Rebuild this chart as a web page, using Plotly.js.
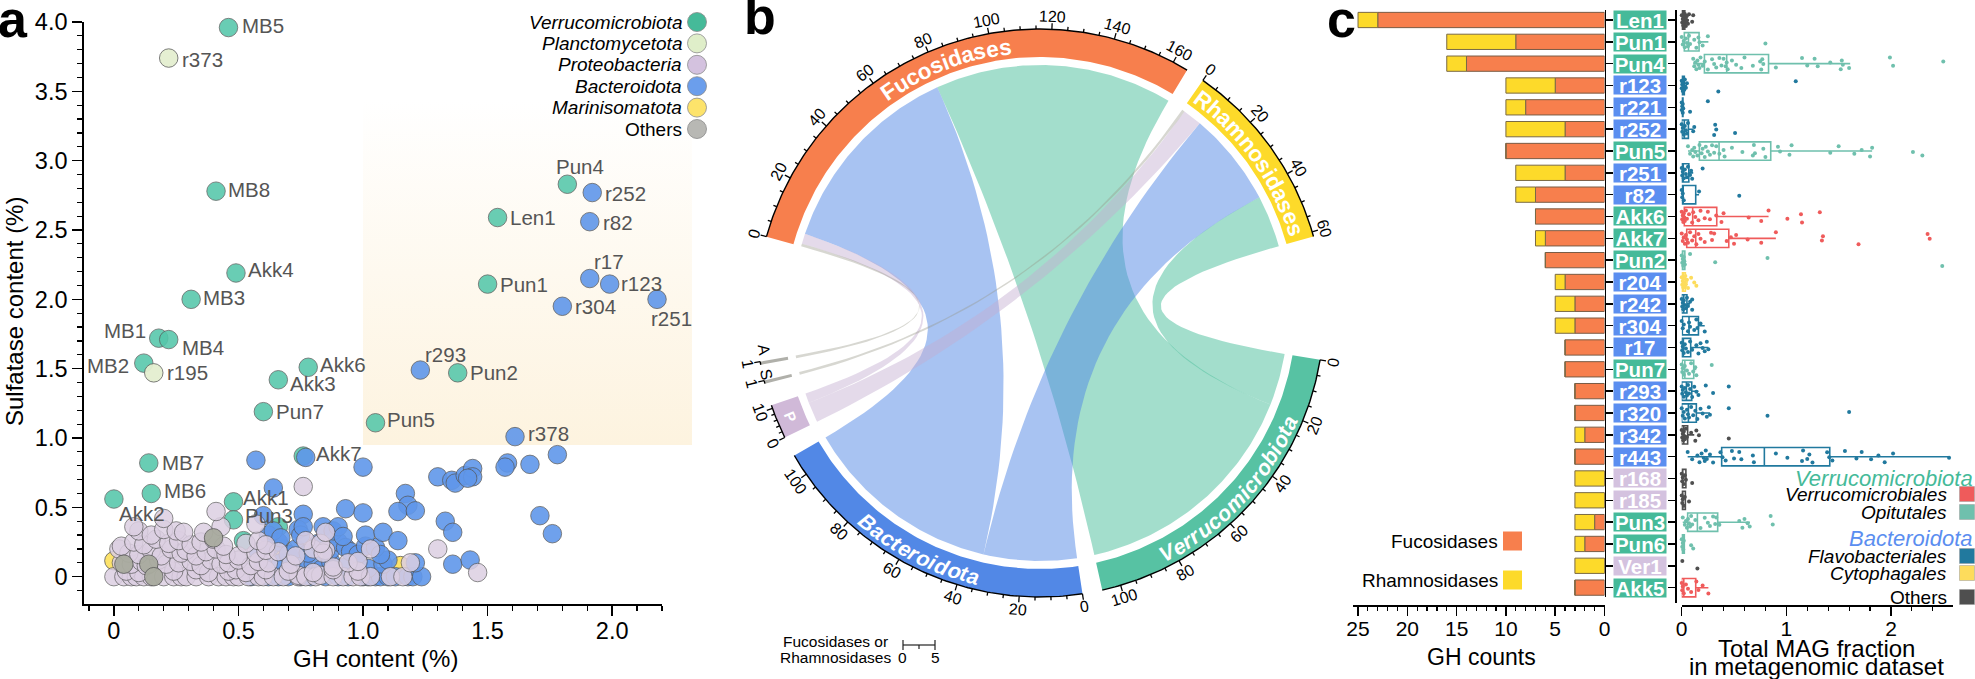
<!DOCTYPE html>
<html><head><meta charset="utf-8">
<script src="https://cdn.plot.ly/plotly-3.0.1.min.js"></script>
<style>html,body{margin:0;padding:0;background:#fff}#c{width:1975px;height:679px}</style>
</head><body><div id="c"></div>
<script>
// ---------- panel a data ----------
const labelledVerruco = [['MB5',.46,3.96],['Pun4',1.82,2.83],['MB8',.41,2.78],['Len1',1.54,2.59],['Akk4',.49,2.19],['Pun1',1.50,2.11],['MB3',.31,2.0],['MB1',.18,1.72],['MB4',.22,1.71],['MB2',.12,1.54],['Akk6',.78,1.51],['Pun2',1.38,1.47],['Akk3',.66,1.42],['Pun7',.60,1.19],['Pun5',1.05,1.11],['Akk7',.76,.87],['MB7',.14,.82],['MB6',.15,.60],['Akk2',0,.56],['Akk1',.48,.54],['Pun3',.48,.41]];
const otherVerruco = [[.52,.26],[.66,.36]];
const labelledPlancto = [['r373',.22,3.74],['r195',.16,1.47]];
const labelledBactero = [['r252',1.92,2.77],['r82',1.91,2.56],['r17',1.91,2.15],['r123',1.99,2.11],['r304',1.80,1.95],['r251',2.18,2.0],['r293',1.23,1.49],['r378',1.61,1.01]];
const otherBactero = [[.57,.84],[.77,.86],[1.0,.79],[1.30,.72],[1.356,.695],[1.37,.675],[1.41,.73],[1.44,.78],[1.44,.72],[1.42,.71],[1.58,.82],[1.57,.79],[1.67,.81],[1.78,.88],[1.17,.6],[1.18,.515],[1.14,.47],[1.21,.475],[.93,.49],[1.0,.46],[.64,.64],[.76,.45],[.6,.44],[1.33,.40],[1.36,.32],[1.71,.44],[1.76,.31],
[.55,0],[.62,0],[.66,0],[.7,0],[.75,0],[.79,0],[.85,0],[.9,0],[.94,0],[1.0,0],[1.02,0],[1.05,0],[1.07,0],[1.1,0],[1.13,0],[1.18,0],[1.2,0],[1.235,0],
[.6,.08],[.67,.1],[.72,.06],[.76,.12],[.8,.09],[.83,.05],[.87,.11],[.93,.07],[.98,.1],[1.02,.06],[1.08,.09],[1.1,.12],[1.21,.1],[1.36,.09],[1.43,.12],
[.58,.18],[.63,.22],[.66,.25],[.7,.16],[.73,.2],[.78,.17],[.82,.24],[.87,.19],[.9,.25],[.93,.21],[.95,.18],[.98,.16],[1.01,.22],[1.05,.21],[1.07,.16],
[.62,.3],[.64,.33],[.74,.34],[.75,.3],[.76,.36],[.84,.36],[.88,.33],[.9,.36],[.92,.29],[1.01,.30],[1.08,.32],[1.14,.26],[.67,.28]];
const proteobacteria = [[0,0],[.04,0],[.07,0],[.09,0],[.12,0],[.15,0],[.2,0],[.24,0],[.27,0],[.29,0],[.33,0],[.38,0],[.42,0],[.45,0],[.48,0],[.5,0],[.54,0],[.58,0],[.6,0],[.64,0],[.68,0],[.74,0],[.74,.01],[.77,0],[.81,0],[.83,.01],[.88,0],[.92,0],[.96,0],[.99,0],[1.03,0],[1.11,0],[1.16,0],
[.05,.04],[.1,.03],[.24,.04],[.33,.05],[.38,.03],[.46,.04],[.49,.05],[.53,.03],[.61,.05],[.7,.04],[.8,.03],[.88,.05],[.98,.04],[1.46,.03],
[.03,.1],[.07,.09],[.11,.11],[.13,.08],[.18,.12],[.21,.09],[.26,.1],[.31,.11],[.35,.08],[.39,.12],[.43,.09],[.46,.1],[.5,.12],[.55,.08],[.58,.11],[.62,.1],[.71,.09],[.88,.07],[.94,.1],[.98,.11],[1.19,.1],
[.02,.2],[.06,.17],[.1,.16],[.15,.19],[.19,.15],[.23,.2],[.27,.17],[.29,.19],[.33,.15],[.37,.18],[.41,.2],[.45,.16],[.5,.15],[.57,.17],[.61,.19],[.66,.18],[.73,.15],[.8,.2],[.85,.19],[.84,.17],[1.03,.2],[1.3,.2],
[.03,.22],[.08,.25],[.12,.23],[.17,.27],[.22,.24],[.26,.26],[.31,.23],[.35,.25],[.4,.27],[.44,.22],[.53,.24],[.58,.26],[.61,.23],[.77,.26],[.83,.24],
[.1,.33],[.15,.3],[.2,.34],[.25,.33],[.28,.32],[.36,.32],[.43,.36],[.57,.38],[.85,.32],[.08,.36],[.2,.42],[.41,.47],[.76,.65]];
const marinisomatota = [[0,.115],[.68,.2],[1.15,.08],[.7,.16]];
const otherPhyla = [[.04,.09],[.14,.09],[.16,0],[.4,.28]];
const phylaNames = ['Verrucomicrobiota','Planctomycetota','Proteobacteria','Bacteroidota','Marinisomatota','Others'];
const phylaSwatches = ['#45ba99','#dfeec9','#d4c2df','#6b9eec','#fde36b','#b8b8b4'];
// label name -> [pixel dx, pixel dy, anchor]
const labelOffsets = {MB5:[11,-2,'left'],r373:[11,1,'left'],MB8:[10,-2,'left'],Pun4:[-13,-18,'left'],Len1:[10,0,'left'],Akk4:[10,-3,'left'],Pun1:[10,0,'left'],MB3:[10,-2,'left'],MB1:[-11,-8,'right'],MB4:[11,8,'left'],MB2:[-13,2,'right'],r195:[11,0,'left'],Akk6:[10,-3,'left'],Akk3:[10,4,'left'],Pun7:[11,0,'left'],Pun5:[10,-3,'left'],r293:[3,-16,'left'],Pun2:[10,0,'left'],r378:[11,-3,'left'],Akk7:[11,-3,'left'],MB7:[11,0,'left'],MB6:[11,-3,'left'],Akk2:[3,14,'left'],Akk1:[8,-4,'left'],Pun3:[10,-4,'left'],r252:[11,1,'left'],r82:[11,1,'left'],r17:[2,-17,'left'],r123:[9,-1,'left'],r304:[11,0,'left'],r251:[-8,19,'left']};

// ---------- panel b data ----------
const sectorNames = ['Fucosidases','Rhamnosidases','Verrucomicrobiota','Bacteroidota','P','S','A'];
const sectorTotals = [165,61.5,106,107,11,1,1];
const sectorTickMax = [160,60,100,100,10,1,1];
const sectorStartDeg = [285.6,35,99.5,171.4,244,255.6,259.5];
const sectorColors = ['#f77f4d','#fdda2a','#57c2a3','#5288e6','#d0b9d8','#b0b0aa','#b0b0aa'];
const linkA = [0,1,0,1,0,1,0,1];
const linkAFrom = [78,42.5,4.7,8,1,1,0,0];
const linkATo = [165,61.5,78,42.5,4.7,8,1,1];
const linkB = [2,2,3,3,4,4,6,5];
const linkBFrom = [19,0,34,0,7.5,0,0,0];
const linkBTo = [106,19,107,34,11,7.5,1,1];
const linkColors = ['rgba(87,194,163,.55)','rgba(87,194,163,.55)','rgba(82,136,230,.5)','rgba(82,136,230,.5)','rgba(196,174,208,.45)','rgba(196,174,208,.45)','rgba(150,150,135,.38)','rgba(150,150,135,.38)'];

// ---------- panel c data ----------
const rowNames = ['Len1','Pun1','Pun4','r123','r221','r252','Pun5','r251','r82','Akk6','Akk7','Pun2','r204','r242','r304','r17','Pun7','r293','r320','r342','r443','r168','r185','Pun3','Pun6','Ver1','Akk5'];
const rowPhylum = ['V','V','V','B','B','B','V','B','B','V','V','V','B','B','B','B','V','B','B','B','B','P','P','V','V','P','V'];
const rowOrder = ['O','T','T','F','F','F','T','F','F','R','R','T','C','F','F','F','T','F','F','O','F','O','O','T','T','O','R'];
const fucCounts = [23,9,14,5,8,4,10,4,7,7,6,6,4,3,3,4,4,3,3,2,3,0,0,1,2,0,3];
const rhamCounts = [2,7,2,5,2,6,0,5,2,0,1,0,1,2,2,0,0,0,0,1,0,3,3,2,1,3,0];
const boxQ1 =   [0,.025,.217,0,0,0,.169,0,.005,.025,.048,0,0,0,.006,0,.006,0,0,0,.382,0,0,.057,0,null,0];
const boxMed =  [.015,.065,.43,.01,.005,.025,.357,.015,.01,.105,.134,.01,.015,.02,.07,.016,.03,.045,.064,.02,.79,.01,.01,.15,.01,null,.02];
const boxQ3 =   [.03,.166,.83,.025,.012,.064,.851,.068,.134,.335,.45,.03,.035,.05,.16,.086,.115,.096,.14,.057,1.415,.04,.035,.344,.025,null,.134];
const boxLow =  [0,0,.11,0,0,0,.06,0,0,0,0,0,0,0,.006,0,0,0,0,0,.057,0,0,.01,0,null,0];
const boxHigh = [.07,.255,1.61,.05,.015,.11,1.82,.11,.166,.83,.9,.04,.06,.08,.22,.255,.14,.16,.27,.12,2.555,.05,.04,.653,.03,null,.255];
const magValues = [
[0,.005,.01,.015,.02,.02,.025,.03,.035,.04,.04,.05,.05,.06,.07,.1,.11],
[0,.01,.02,.03,.04,.05,.06,.07,.08,.12,.14,.16,.17,.2,.25,.8],
[.11,.12,.13,.14,.15,.16,.17,.18,.2,.22,.25,.29,.31,.33,.36,.38,.4,.42,.43,.44,.48,.52,.57,.6,.68,.75,.76,.77,.78,.9,1.15,1.2,1.27,1.3,1.42,1.52,1.53,1.54,1.6,1.99,2.02,2.5],
[0,0,.005,.01,.01,.02,.025,.03,.04,.05,.35,1.09],
[0,0,.005,.01,.01,.015,.08,.25],
[0,.005,.01,.02,.03,.04,.05,.06,.11,.12,.31,.32,.33,.51],
[.06,.08,.1,.11,.12,.13,.15,.17,.19,.2,.22,.23,.25,.27,.29,.31,.33,.36,.4,.41,.48,.58,.68,.69,.7,.78,.8,.92,.94,1.03,1.05,1.42,1.5,1.65,1.72,1.8,1.82,2.21,2.3],
[0,.005,.01,.02,.03,.04,.05,.06,.08,.09,.1,.2],
[0,.005,.01,.02,.166,.55],
[0,.005,.01,.015,.02,.025,.03,.04,.05,.07,.1,.11,.13,.16,.18,.22,.25,.27,.33,.38,.4,.64,.76,.83,1.01,1.14,1.15,1.32],
[0,.01,.02,.03,.04,.05,.06,.08,.1,.12,.14,.16,.18,.22,.28,.29,.31,.43,.47,.5,.52,.63,.76,.9,1.34,1.35,1.69,2.35,2.37],
[0,.005,.01,.015,.02,.025,.03,.08,.32,.82,2.49],
[0,.005,.01,.015,.02,.025,.03,.035,.04,.05,.06,.09,.12,.14],
[0,.005,.01,.015,.02,.03,.04,.05,.06,.08,.1,.1],
[0,.01,.02,.06,.07,.08,.12,.14,.15,.18,.22],
[0,.005,.01,.02,.03,.04,.06,.08,.1,.14,.16,.18,.2,.22,.24,.255],
[0,.005,.01,.02,.03,.05,.07,.09,.11,.13,.14,.287],
[0,.005,.01,.02,.03,.04,.05,.06,.07,.08,.1,.12,.14,.16,.23,.3,.45],
[0,.01,.02,.03,.05,.06,.07,.09,.11,.13,.15,.18,.2,.24,.26,.27,.45,.82,1.6],
[0,.005,.01,.015,.02,.025,.03,.04,.05,.09,.13,.14,.165,.45],
[.057,.1,.15,.17,.19,.21,.22,.23,.24,.27,.3,.37,.39,.42,.48,.5,.55,.57,.68,.69,.9,1.01,1.15,1.16,1.2,1.22,1.25,1.39,1.41,1.44,1.56,1.67,1.72,1.81,1.88,1.94,2.02,2.555],
[0,.005,.01,.02,.03,.04,.1],
[0,.005,.01,.02,.03,.07],
[.01,.03,.04,.05,.06,.07,.08,.09,.1,.13,.18,.22,.25,.27,.3,.32,.33,.36,.55,.58,.6,.63,.65,.85,.87],
[0,.005,.01,.015,.02,.09,.11],
[.006,.15],
[0,.005,.01,.02,.04,.06,.09,.14,.16,.2,.255]];
const rowJitter = [-.22,.12,-.05,.25,-.15,.05,.2,-.28,.1,-.1,.27,-.2,.02,.17,-.26,.08];
const orderColors = {R:'#ef5b5b',T:'#6fc0ad',F:'#21799e',C:'#fddc5c',O:'#4f4f4f'};
const phylumColors = {V:'#45ba99',B:'#5b8ef0',P:'#d4c2df'};
const cAxisCounts = [25,20,15,10,5,0];
const cAxisMag = [0,1,2];

// ---------- helpers ----------
const W=1975,H=679, FONT='"Liberation Sans", Arial, sans-serif';
const px=v=>v/W, py=v=>(H-v)/H;
const annos=[], traces=[], CX=1040, CY=313, R_OUT=284, R_IN=256, R_LINK=248, DEG=0.64;
const pt=(deg,r)=>[CX+r*Math.sin(deg*Math.PI/180), CY-r*Math.cos(deg*Math.PI/180)];
function txt(x,y,text,size,o={}){annos.push(Object.assign({x,y,xref:'x',yref:'y',text,showarrow:false,xanchor:'center',yanchor:'middle',font:{size,family:FONT,color:'#000'},borderpad:0},o));}
const sectorDeg=(s,u)=>sectorStartDeg[s]+u*DEG;
function poly(pts,color){traces.push({type:'scatter',xaxis:'x',yaxis:'y',mode:'lines',x:pts.map(p=>p[0]),y:pts.map(p=>p[1]),fill:'toself',fillcolor:color,line:{width:0},hoverinfo:'skip',showlegend:false});}
function arc(d0,d1,r){const n=Math.max(2,Math.ceil(Math.abs(d1-d0)*1.5)),o=[];for(let i=0;i<=n;i++)o.push(pt(d0+(d1-d0)*i/n,r));return o;}
function bez(p0,p2){const o=[];for(let i=1;i<40;i++){const t=i/40,a=(1-t)*(1-t),c=t*t;o.push([a*p0[0]+2*t*(1-t)*CX+c*p2[0],a*p0[1]+2*t*(1-t)*CY+c*p2[1]]);}return o;}

// shaded region in panel a
traces.push({type:'scatter',xaxis:'x',yaxis:'y',mode:'lines',x:[363,692,692,363,363],y:[100,100,445,445,100],fill:'toself',line:{width:0},hoverinfo:'skip',showlegend:false,
 fillcolor:'#fdf2df',fillgradient:{type:'vertical',start:100,stop:445,colorscale:[[0,'#ffffff'],[.5,'#fef9ef'],[1,'#fdf3df']]}});

// chord links
linkA.forEach((a,i)=>{
 const a0=sectorDeg(a,linkAFrom[i]),a1=sectorDeg(a,linkATo[i]),b=linkB[i],b0=sectorDeg(b,linkBFrom[i]),b1=sectorDeg(b,linkBTo[i]);
 const A=arc(a0,a1,R_LINK),B=arc(b0,b1,R_LINK);
 poly([...A,...bez(A[A.length-1],B[0]),...B,...bez(B[B.length-1],A[0]),A[0]],linkColors[i]);
});
// chord sectors, ticks
const tx=[],ty=[];
sectorNames.forEach((n,s)=>{
 const d0=sectorDeg(s,0),d1=sectorDeg(s,sectorTotals[s]);
 const outer=arc(d0,d1,R_OUT),inner=arc(d1,d0,R_IN);
 poly([...outer,...inner,outer[0]],sectorColors[s]);
 traces.push({type:'scatter',xaxis:'x',yaxis:'y',mode:'lines',x:outer.map(p=>p[0]),y:outer.map(p=>p[1]),line:{color:'#000',width:1.4},hoverinfo:'skip',showlegend:false});
 const max=sectorTickMax[s],minor=max>=60?5:(max==10?2:1),major=max>=60?20:(max==10?10:1);
 for(let u=(max==1?1:0);u<=max;u+=minor){
  const isMajor=u%major===0,d=sectorDeg(s,u),p0=pt(d,R_OUT),p1=pt(d,R_OUT+(isMajor?6:3.5));
  tx.push(p0[0],p1[0],null);ty.push(p0[1],p1[1],null);
  if(isMajor){const L=pt(d,R_OUT+13),nd=((d%360)+360)%360,ang=(nd>90&&nd<270)?nd-180:(nd>=270?nd-360:nd);
   txt(L[0],L[1],String(u),16,{textangle:ang});}
 }
});
traces.push({type:'scatter',xaxis:'x',yaxis:'y',mode:'lines',x:tx,y:ty,line:{color:'#000',width:1.3},hoverinfo:'skip',showlegend:false});

// bent sector labels
const mctx=document.createElement('canvas').getContext('2d');
function bent(text,centerDeg,r,size,style,flip){
 mctx.font=`${style} bold ${size}px "Liberation Sans"`;
 const widths=[...text].map(c=>mctx.measureText(c).width),tot=widths.reduce((a,b)=>a+b,0)*1.02;
 let s=-tot/2;
 [...text].forEach((c,i)=>{
  const off=(s+widths[i]*.51)/r*180/Math.PI, d=centerDeg+(flip?-off:off), p=pt(d,r), nd=((d%360)+360)%360;
  txt(p[0],p[1],style==='italic'?`<b><i>${c}</i></b>`:`<b>${c}</b>`,size,{textangle:flip?nd-180:(nd>180?nd-360:nd),font:{size,family:FONT,color:'#fff'}});
  s+=widths[i]*1.02;
 });
}
bent('Fucosidases',339,268,22.5,'normal',false);
bent('Rhamnosidases',54.5,268,22.5,'normal',false);
bent('Verrucomicrobiota',133,272,21.5,'italic',true);
bent('Bacteroidota',207,272,21.5,'italic',true);
{const p=pt(247.5,270);txt(p[0],p[1],'<b>P</b>',15,{textangle:67.5,font:{size:15,family:FONT,color:'#fff'}});}
{const p=pt(262.4,279);txt(p[0],p[1],'A',16,{textangle:82});const q=pt(257.2,280);txt(q[0],q[1],'S',16,{textangle:77});}

// scale bar
traces.push({type:'scatter',xaxis:'x',yaxis:'y',mode:'lines',x:[903,935,null,903,903,null,935,935,null,919,919],y:[645,645,null,640,650,null,640,650,null,645,649],line:{color:'#222',width:1.2},hoverinfo:'skip',showlegend:false});
txt(835,641,'Fucosidases or',15.5);txt(835,657,'Rhamnosidases',15.5);
txt(902,657,'0',15.5);txt(935,657,'5',15.5);

// panel a legend
phylaNames.forEach((n,i)=>{const y=22+21.4*i;
 txt(683,y,i<5?`<i>${n}</i>`:n,19,{xanchor:'right'});});
traces.push({type:'scatter',xaxis:'x',yaxis:'y',mode:'markers',x:phylaNames.map(()=>697),y:phylaNames.map((n,i)=>22+21.4*i),marker:{size:19,color:phylaSwatches,line:{color:'#8a8a8a',width:.8}},hoverinfo:'skip',showlegend:false});

// panel letters
txt(13,19,'<b>a</b>',52);txt(760,16,'<b>b</b>',52);txt(1341,19,'<b>c</b>',52);

// panel a scatter
function pts(list,color,opacity){traces.push({type:'scatter',xaxis:'x2',yaxis:'y2',mode:'markers',cliponaxis:false,x:list.map(p=>p[p.length-2]),y:list.map(p=>p[p.length-1]),marker:{size:18.5,color,opacity,line:{color:'#555',width:.8}},hoverinfo:'skip',showlegend:false});}
pts([...labelledVerruco,...otherVerruco],'#55c7aa',.88);
pts(labelledPlancto,'#e4efd0',.95);
pts(marinisomatota,'#fde36b',1);
pts([...labelledBactero,...otherBactero],'#6097ea',.9);
pts(proteobacteria,'#dccfe2',.85);
pts(otherPhyla,'#a9ab9f',.95);
[...labelledVerruco,...labelledPlancto,...labelledBactero].forEach(l=>{const o=labelOffsets[l[0]];
 annos.push({x:l[1],y:l[2],xref:'x2',yref:'y2',text:l[0],showarrow:false,xanchor:o[2],yanchor:'middle',xshift:o[0],yshift:-o[1],font:{size:20.5,family:FONT,color:'#555'}});});

// panel c bars
const rowIdx=rowNames.map((n,i)=>i);
traces.push({type:'bar',orientation:'h',xaxis:'x3',yaxis:'y3',x:fucCounts,y:rowIdx,width:.7,marker:{color:'#f77f4d',line:{color:'#7a5c45',width:1}},hoverinfo:'skip',showlegend:false});
traces.push({type:'bar',orientation:'h',xaxis:'x3',yaxis:'y3',x:rhamCounts,y:rowIdx,width:.7,marker:{color:'#fdda2a',line:{color:'#7a6a45',width:1}},hoverinfo:'skip',showlegend:false});
// panel c boxes, points
rowNames.forEach((n,i)=>{
 const col=orderColors[rowOrder[i]];
 if(boxQ1[i]!==null) traces.push({type:'box',orientation:'h',xaxis:'x4',yaxis:'y4',y:[i],q1:[boxQ1[i]],median:[boxMed[i]],q3:[boxQ3[i]],lowerfence:[boxLow[i]],upperfence:[boxHigh[i]],width:.84,whiskerwidth:0,boxpoints:false,fillcolor:'rgba(0,0,0,0)',line:{color:col,width:1.6},hoverinfo:'skip',showlegend:false});
 traces.push({type:'scatter',mode:'markers',xaxis:'x4',yaxis:'y4',cliponaxis:false,x:magValues[i],y:magValues[i].map((v,k)=>i+rowJitter[k%rowJitter.length]),marker:{size:4,color:col},hoverinfo:'skip',showlegend:false});
 annos.push({x:1640,y:i,xref:'x',yref:'y3',text:`<b>${n}</b>`,showarrow:false,xanchor:'center',yanchor:'middle',width:52,height:18,bgcolor:phylumColors[rowPhylum[i]],borderpad:0,font:{size:20.5,family:FONT,color:'#fff'}});
});
// panel c legends
[['Verrucomicrobiota',478,'#45ba99',1974,22],['Verrucomicrobiales',494,'#000',1948,19],['Opitutales',512,'#000',1948,19],['Bacteroidota',538,'#5b8ef0',1974,22],['Flavobacteriales',556,'#000',1948,19],['Cytophagales',573,'#000',1948,19]].forEach(a=>txt(a[3],a[1],`<i>${a[0]}</i>`,a[4],{xanchor:'right',font:{size:a[4],family:FONT,color:a[2]}}));
txt(1948,597,'Others',19,{xanchor:'right'});
const legendMarks=[[494,'#ef5b5b'],[512,'#6fc0ad'],[556,'#21799e'],[573,'#fddc5c'],[597,'#4f4f4f'],];
traces.push({type:'scatter',mode:'markers',xaxis:'x',yaxis:'y',x:legendMarks.map(()=>1967),y:legendMarks.map(m=>m[0]),marker:{symbol:'square',size:15,color:legendMarks.map(m=>m[1]),line:{color:'#999',width:.5}},hoverinfo:'skip',showlegend:false});
txt(1499,541.7,'Fucosidases',19,{xanchor:'right'});txt(1499,580,'Rhamnosidases',19,{xanchor:'right'});
traces.push({type:'scatter',mode:'markers',xaxis:'x',yaxis:'y',x:[1512.5,1512.5],y:[541,580],marker:{symbol:'square',size:19,color:['#f77f4d','#fdda2a']},hoverinfo:'skip',showlegend:false});
// axis titles
txt(375,658,'GH content (%)',24);
txt(14,312,'Sulfatase content (%)',24,{textangle:-90});
txt(1481,657,'GH counts',23);
txt(1816,648,'Total MAG fraction',24);txt(1816,666,'in metagenomic dataset',24);

const axBase={showgrid:false,zeroline:false,showline:true,linecolor:'#000',linewidth:1.8,ticks:'outside',tickcolor:'#000',tickwidth:1.5,ticklen:10,tickfont:{size:23.5,family:FONT,color:'#000'}};
const minor=(d,l)=>({dtick:d,tick0:0,ticks:'outside',ticklen:l,tickwidth:1.2,tickcolor:'#000',showgrid:false});
const layout={width:W,height:H,margin:{l:0,r:0,t:0,b:0},paper_bgcolor:'#fff',plot_bgcolor:'rgba(0,0,0,0)',barmode:'relative',boxmode:'overlay',showlegend:false,font:{family:FONT},annotations:annos,
 xaxis:{domain:[0,1],range:[0,W],visible:false,fixedrange:true},
 yaxis:{domain:[0,1],range:[H,0],visible:false,fixedrange:true},
 xaxis2:{...axBase,domain:[px(84),px(662)],range:[-.12,2.2],anchor:'y2',tickmode:'array',tickvals:[0,.5,1,1.5,2],ticktext:['0','0.5','1.0','1.5','2.0'],minor:minor(.1,5),ticklabelstandoff:-5},
 yaxis2:{...axBase,domain:[py(604),py(22)],range:[-.197,4.0],anchor:'x2',tickmode:'array',tickvals:[0,.5,1,1.5,2,2.5,3,3.5,4],ticktext:['0','0.5','1.0','1.5','2.0','2.5','3.0','3.5','4.0'],minor:minor(.1,5)},
 xaxis3:{...axBase,domain:[px(1353),px(1604.5)],range:[25.51,0],anchor:'free',position:py(605),tickmode:'array',tickvals:cAxisCounts,ticktext:cAxisCounts.map(String),ticklen:9,tickfont:{size:21,family:FONT,color:'#000'},minor:minor(1,4),ticklabelstandoff:-5},
 yaxis3:{...axBase,domain:[py(597),py(10)],range:[26.43,-.458],anchor:'x3',side:'right',tickmode:'array',tickvals:rowIdx,showticklabels:false,ticklen:7},
 xaxis4:{...axBase,domain:[px(1681.7),px(1952.7)],range:[0,2.59],anchor:'free',position:py(605),tickmode:'array',tickvals:cAxisMag,ticktext:cAxisMag.map(String),ticklen:9,tickfont:{size:21,family:FONT,color:'#000'},minor:minor(.2,4),ticklabelstandoff:-5},
 yaxis4:{...axBase,domain:[py(603),py(10)],range:[26.7,-.458],anchor:'free',position:px(1675),side:'left',tickmode:'array',tickvals:rowIdx,showticklabels:false,ticklen:7}
};
Plotly.newPlot('c',traces,layout,{displayModeBar:false,staticPlot:true});
</script></body></html>
